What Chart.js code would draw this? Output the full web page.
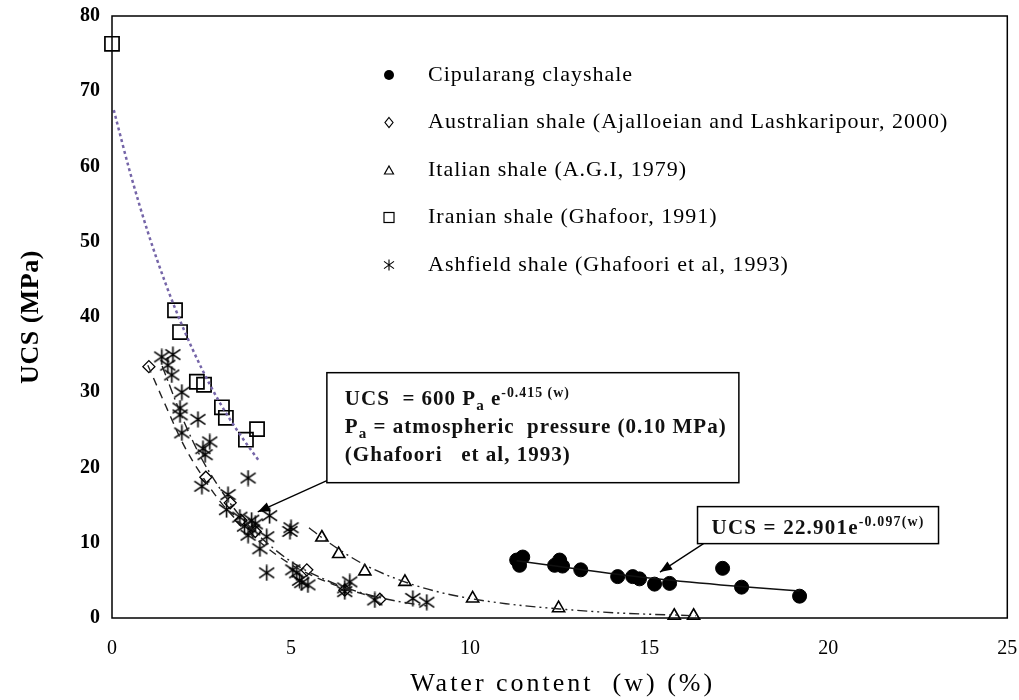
<!DOCTYPE html>
<html>
<head>
<meta charset="utf-8">
<script src="https://cdn.jsdelivr.net/npm/chart.js@4.4.1/dist/chart.umd.min.js"></script>
<style>
  html, body { margin: 0; padding: 0; background: #fff; }
</style>
</head>
<body>
<canvas id="ucsChart" width="1019" height="700"></canvas>
<script>
// UCS vs water content chart

// Cipularang clayshale
const cipuW = [11.3, 11.38, 11.47, 12.36, 12.5, 12.58, 13.09, 14.12, 14.54, 14.73, 15.15, 15.57, 17.05, 17.58, 19.2];
const cipuUcs = [7.7, 7.0, 8.1, 7.0, 7.7, 6.9, 6.4, 5.5, 5.5, 5.2, 4.5, 4.6, 6.6, 4.1, 2.9];

// Australian shale
const ausW = [1.03, 2.62, 3.3, 3.6, 4.0, 5.44, 6.5, 7.48];
const ausUcs = [33.4, 18.7, 15.3, 13.0, 11.5, 6.4, 3.7, 2.5];

// Italian shale
const itaW = [5.86, 6.33, 7.06, 8.18, 10.07, 12.47, 15.7, 16.24];
const itaUcs = [10.7, 8.5, 6.2, 4.8, 2.6, 1.3, 0.3, 0.3];

// Iranian shale
const iranW = [0, 1.76, 1.9, 2.37, 2.57, 3.07, 3.18, 3.74, 4.05];
const iranUcs = [76.3, 40.9, 38.0, 31.4, 31.0, 28.0, 26.6, 23.7, 25.1];

// Ashfield shale
const ashW = [1.39, 1.56, 1.7, 1.67, 1.95, 1.9, 1.9, 2.4, 1.95, 2.73, 2.54, 2.6, 2.51, 3.24, 3.8, 3.2, 3.57,
  3.9, 3.93, 4.4, 4.32, 4.13, 5.0, 4.97, 4.32, 5.05, 5.16, 5.24, 5.3, 5.47, 6.5, 6.5, 6.64, 7.34, 8.4, 8.79,
  3.7, 4.0, 3.8];
const ashUcs = [34.7, 33.6, 35.0, 32.3, 30.0, 27.9, 27.0, 26.4, 24.6, 23.4, 22.5, 21.7, 17.5, 16.4, 18.6, 14.4, 13.4,
  13.0, 11.7, 13.6, 10.8, 9.2, 12.0, 11.5, 6.0, 6.4, 6.0, 5.0, 4.7, 4.4, 3.5, 4.0, 4.8, 2.4, 2.6, 2.1,
  12.2, 12.5, 11.0];

// trend lines
const iranFitW = [0.05, 0.5, 1, 1.5, 2, 2.5, 3, 3.5, 4.1];
const iranFitUcs = [67.5, 59.3, 51.3, 44.4, 38.4, 33.2, 28.7, 24.9, 20.9];
const ausFitW = [1.0, 1.5, 2, 2.5, 3, 3.5, 4, 5, 6, 7, 7.6];
const ausFitUcs = [33.6, 28.2, 23.0, 19.0, 15.6, 12.9, 10.6, 7.1, 4.8, 3.2, 2.5];
const ashFitW = [1.4, 2, 2.5, 3, 3.5, 4, 5, 6, 7, 8, 8.8];
const ashFitUcs = [33.5, 26.2, 21.2, 17.3, 14.0, 11.4, 7.5, 5.0, 3.3, 2.2, 1.6];
const itaFitW = [5.5, 6, 7, 8, 9, 10, 11, 12.5, 14, 16.3];
const itaFitUcs = [12.0, 10.2, 7.2, 5.1, 3.6, 2.6, 1.9, 1.2, 0.7, 0.3];
const cipuFitW = [11.3, 13, 15, 17, 19.2];
const cipuFitUcs = [7.6, 6.5, 5.3, 4.4, 3.6];

// axis ticks
const xTicks = [0, 5, 10, 15, 20, 25];
const yTicks = [0, 10, 20, 30, 40, 50, 60, 70, 80];

const legendLabels = [
  "Cipularang clayshale",
  "Australian shale (Ajalloeian and Lashkaripour, 2000)",
  "Italian shale (A.G.I, 1979)",
  "Iranian shale (Ghafoor, 1991)",
  "Ashfield shale (Ghafoori et al, 1993)"
];

const SERIF = "'Liberation Serif', 'Times New Roman', serif";

function zip(xs, ys) {
  return xs.map((x, i) => ({ x: x, y: ys[i] }));
}

// asterisk marker (vertical bar + X)
function makeAsterisk(size, lw) {
  const c = document.createElement("canvas");
  c.width = size;
  c.height = size;
  const g = c.getContext("2d");
  g.strokeStyle = "#000";
  g.lineWidth = lw;
  const m = size / 2;
  g.beginPath();
  g.moveTo(m, 0.5);
  g.lineTo(m, size - 0.5);
  g.moveTo(1, size * 0.2);
  g.lineTo(size - 1, size * 0.8);
  g.moveTo(1, size * 0.8);
  g.lineTo(size - 1, size * 0.2);
  g.stroke();
  return c;
}
const asterisk = makeAsterisk(17, 1.6);
const asteriskSmall = makeAsterisk(12, 1.1);

function fitLine(xs, ys, color, dash, width) {
  return {
    data: zip(xs, ys),
    showLine: true,
    borderColor: color,
    borderWidth: width,
    borderDash: dash,
    pointRadius: 0,
    cubicInterpolationMode: "monotone",
    fill: false
  };
}

// Draw text runs with sub/superscripts
function drawRuns(ctx, x, y, runs, size, weight, spacing) {
  ctx.letterSpacing = spacing + "px";
  runs.forEach((r) => {
    let fs = size;
    let dy = 0;
    if (r.sub) { fs = size * 0.72; dy = 5; }
    if (r.sup) { fs = size * 0.66; dy = -8; }
    ctx.font = weight + " " + fs + "px " + SERIF;
    ctx.fillText(r.t, x, y + dy);
    x += ctx.measureText(r.t).width;
  });
  ctx.letterSpacing = "0px";
}

function arrow(ctx, x1, y1, x2, y2) {
  ctx.beginPath();
  ctx.moveTo(x1, y1);
  ctx.lineTo(x2, y2);
  ctx.stroke();
  const a = Math.atan2(y2 - y1, x2 - x1);
  const len = 13, half = 0.38;
  ctx.beginPath();
  ctx.moveTo(x2, y2);
  ctx.lineTo(x2 - len * Math.cos(a - half), y2 - len * Math.sin(a - half));
  ctx.lineTo(x2 - len * Math.cos(a + half), y2 - len * Math.sin(a + half));
  ctx.closePath();
  ctx.fill();
}

// frame, legend, titles and equation boxes
const extrasPlugin = {
  id: "extras",
  afterDraw(chart) {
    const ctx = chart.ctx;
    const area = chart.chartArea;
    const xs = chart.scales.x;
    const ys = chart.scales.y;
    ctx.save();

    // plot frame
    ctx.strokeStyle = "#000";
    ctx.lineWidth = 1.5;
    ctx.strokeRect(area.left, area.top, area.right - area.left, area.bottom - area.top);

    // axis titles
    ctx.fillStyle = "#000";
    ctx.textAlign = "center";
    ctx.textBaseline = "middle";
    ctx.letterSpacing = "3px";
    ctx.font = "26px " + SERIF;
    ctx.fillText("Water content  (w) (%)", (area.left + area.right) / 2 + 3, 684);
    ctx.letterSpacing = "0.5px";
    ctx.save();
    ctx.translate(31, (area.top + area.bottom) / 2);
    ctx.rotate(-Math.PI / 2);
    ctx.font = "bold 26px " + SERIF;
    ctx.fillText("UCS (MPa)", 0, 0);
    ctx.restore();
    ctx.letterSpacing = "0px";
    ctx.textAlign = "left";

    // legend
    const mx = area.left + 277;
    const tx = area.left + 316;
    let ly = area.top + 59;
    legendLabels.forEach((label, i) => {
      ctx.lineWidth = 1.2;
      ctx.strokeStyle = "#000";
      if (i === 0) {
        ctx.beginPath();
        ctx.arc(mx, ly, 5, 0, Math.PI * 2);
        ctx.fill();
      } else if (i === 1) {
        ctx.beginPath();
        ctx.moveTo(mx, ly - 5);
        ctx.lineTo(mx + 4, ly);
        ctx.lineTo(mx, ly + 5);
        ctx.lineTo(mx - 4, ly);
        ctx.closePath();
        ctx.stroke();
      } else if (i === 2) {
        ctx.beginPath();
        ctx.moveTo(mx, ly - 4);
        ctx.lineTo(mx + 4.5, ly + 4);
        ctx.lineTo(mx - 4.5, ly + 4);
        ctx.closePath();
        ctx.stroke();
      } else if (i === 3) {
        ctx.strokeRect(mx - 5, ly - 5, 10, 10);
      } else {
        ctx.drawImage(asteriskSmall, mx - 6, ly - 6);
      }
      ctx.letterSpacing = "1px";
      ctx.font = "22px " + SERIF;
      ctx.fillText(label, tx, ly);
      ctx.letterSpacing = "0px";
      ly += 47.5;
    });

    // box 1: Ghafoori equation
    ctx.textBaseline = "alphabetic";
    const b1x = xs.getPixelForValue(6.0);
    const b1y = ys.getPixelForValue(32.6);
    const b1w = 412, b1h = 110;
    ctx.fillStyle = "#fff";
    ctx.fillRect(b1x, b1y, b1w, b1h);
    ctx.strokeStyle = "#000";
    ctx.lineWidth = 1.5;
    ctx.strokeRect(b1x, b1y, b1w, b1h);
    ctx.fillStyle = "#111";
    drawRuns(ctx, b1x + 18, b1y + 32, [
      { t: "UCS  = 600 P" }, { t: "a", sub: true }, { t: " e" }, { t: "-0.415 (w)", sup: true }
    ], 21, "bold", 1);
    drawRuns(ctx, b1x + 18, b1y + 60, [
      { t: "P" }, { t: "a", sub: true }, { t: " = atmospheric  pressure (0.10 MPa)" }
    ], 21, "bold", 1);
    drawRuns(ctx, b1x + 18, b1y + 88, [{ t: "(Ghafoori   et al, 1993)" }], 21, "bold", 1);
    ctx.fillStyle = "#000";
    ctx.lineWidth = 1.3;
    arrow(ctx, b1x, b1y + b1h - 2, xs.getPixelForValue(4.07), ys.getPixelForValue(14.1));

    // box 2: Cipularang equation
    const b2x = xs.getPixelForValue(16.35);
    const b2y = ys.getPixelForValue(14.8);
    const b2w = 241, b2h = 37;
    ctx.fillStyle = "#fff";
    ctx.fillRect(b2x, b2y, b2w, b2h);
    ctx.lineWidth = 1.5;
    ctx.strokeRect(b2x, b2y, b2w, b2h);
    ctx.fillStyle = "#111";
    drawRuns(ctx, b2x + 14, b2y + 27, [
      { t: "UCS = 22.901e" }, { t: "-0.097(w)", sup: true }
    ], 21, "bold", 1.2);
    ctx.fillStyle = "#000";
    ctx.lineWidth = 1.3;
    arrow(ctx, b2x + 6, b2y + b2h, xs.getPixelForValue(15.3), ys.getPixelForValue(6.1));

    ctx.restore();
  }
};

const ctx = document.getElementById("ucsChart");

new Chart(ctx, {
  type: "scatter",
  data: {
    datasets: [
      fitLine(iranFitW, iranFitUcs, "#7565a8", [3, 3], 2.5),
      fitLine(ausFitW, ausFitUcs, "#222", [8, 6], 1.4),
      fitLine(ashFitW, ashFitUcs, "#222", [10, 4, 2, 4], 1.4),
      fitLine(itaFitW, itaFitUcs, "#222", [10, 4, 2, 4, 2, 4], 1.4),
      fitLine(cipuFitW, cipuFitUcs, "#111", [], 1.5),
      {
        data: zip(ashW, ashUcs),
        pointStyle: asterisk,
        pointRadius: 8
      },
      {
        data: zip(ausW, ausUcs),
        pointStyle: "rectRot",
        pointRadius: 6,
        backgroundColor: "#fff",
        borderColor: "#000",
        borderWidth: 1.3
      },
      {
        data: zip(itaW, itaUcs),
        pointStyle: "triangle",
        pointRadius: 7,
        backgroundColor: "#fff",
        borderColor: "#000",
        borderWidth: 1.6
      },
      {
        data: zip(iranW, iranUcs),
        pointStyle: "rect",
        pointRadius: 10,
        backgroundColor: "rgba(255,255,255,0)",
        borderColor: "#000",
        borderWidth: 1.7
      },
      {
        data: zip(cipuW, cipuUcs),
        pointStyle: "circle",
        pointRadius: 7,
        backgroundColor: "#000",
        borderColor: "#000",
        borderWidth: 1
      }
    ]
  },
  options: {
    responsive: false,
    animation: false,
    clip: false,
    layout: { padding: { left: 0, right: 11, top: 16, bottom: 0 } },
    plugins: {
      legend: { display: false },
      tooltip: { enabled: false }
    },
    scales: {
      x: {
        type: "linear",
        min: 0,
        max: 25,
        afterBuildTicks: (scale) => { scale.ticks = xTicks.map((v) => ({ value: v })); },
        afterFit: (scale) => {
          scale.height = 82;
          scale.paddingLeft = 0;
          scale.paddingRight = 0;
        },
        grid: { display: false, drawTicks: false },
        border: { display: false },
        ticks: {
          color: "#000",
          padding: 19,
          font: { family: SERIF, size: 20 }
        }
      },
      y: {
        type: "linear",
        min: 0,
        max: 80,
        afterBuildTicks: (scale) => { scale.ticks = yTicks.map((v) => ({ value: v })); },
        afterFit: (scale) => {
          scale.width = 112;
          scale.paddingTop = 0;
          scale.paddingBottom = 0;
        },
        grid: { display: false, drawTicks: false },
        border: { display: false },
        ticks: {
          color: "#000",
          padding: 12,
          font: { family: SERIF, size: 20, weight: "bold" }
        }
      }
    }
  },
  plugins: [extrasPlugin]
});
</script>
</body>
</html>
